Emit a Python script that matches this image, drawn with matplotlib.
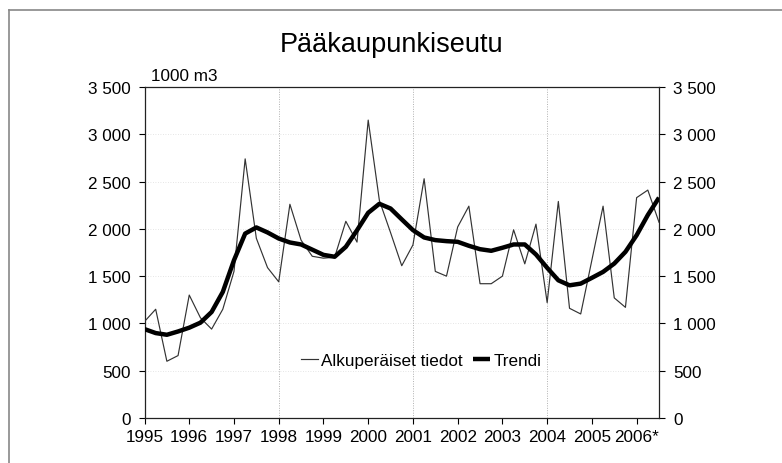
import matplotlib
matplotlib.use("Agg")
import matplotlib.pyplot as plt
from matplotlib.ticker import FuncFormatter
from matplotlib.lines import Line2D
import numpy as np

plt.rcParams['font.family'] = ['Liberation Sans Narrow', 'Liberation Sans', 'DejaVu Sans']

title = "Pääkaupunkiseutu"
unit_label = "1000 m3"
series_names = ["Alkuperäiset tiedot", "Trendi"]
start_year = 1995
year_labels = ["1995", "1996", "1997", "1998", "1999", "2000", "2001",
               "2002", "2003", "2004", "2005", "2006*"]

# quarterly values, 1995 Q1 .. 2006 Q3
original = [1020, 1150, 600, 660, 1300, 1060, 940, 1150,
            1550, 2740, 1900, 1590, 1440, 2260, 1880, 1710,
            1690, 1700, 2080, 1860, 3150, 2300, 1960, 1610,
            1830, 2530, 1550, 1500, 2020, 2240, 1420, 1420,
            1500, 1990, 1630, 2050, 1220, 2290, 1160, 1100,
            1670, 2240, 1270, 1170, 2330, 2410, 2070]
trend = [940, 898, 880, 915, 955, 1008, 1121, 1333,
         1668, 1950, 2015, 1962, 1898, 1856, 1835, 1780,
         1725, 1705, 1810, 1985, 2170, 2265, 2215, 2100,
         1987, 1909, 1881, 1870, 1863, 1821, 1785, 1768,
         1800, 1835, 1835, 1729, 1588, 1456, 1403, 1421,
         1482, 1545, 1633, 1757, 1933, 2146, 2330]

t = start_year + np.arange(len(original)) / 4.0
years = start_year + np.arange(len(year_labels))

fig = plt.figure(figsize=(7.82, 4.64), dpi=100)
ax = fig.add_axes([144.5 / 782, 1 - 419 / 464, (659 - 144.5) / 782, (419 - 88) / 464])

ax.plot(t, original, color='#333333', lw=0.85, label=series_names[0], zorder=3)
ax.plot(t, trend, color='black', lw=3.2, label=series_names[1], zorder=4,
        solid_capstyle='butt')

ax.set_xlim(start_year, t[-1])
ax.set_ylim(0, 3500)
ax.set_yticks(np.arange(0, 3501, 500))
fmt = FuncFormatter(lambda v, p: f"{int(v):,}".replace(",", " "))
ax.yaxis.set_major_formatter(fmt)
ax.set_xticks(years)
ax.set_xticklabels(year_labels)

ax.tick_params(axis='both', labelsize=12.3, colors='black', direction='out', length=4, width=0.8)
ax.tick_params(axis='y', right=True, labelright=True, pad=6)
ax.tick_params(axis='x', pad=4)

for yv in np.arange(500, 3500, 500):
    ax.axhline(yv, color='#dddddd', lw=0.6, ls=(0, (1, 2)), zorder=1)
for xv in [1998, 2001, 2004]:
    ax.axvline(xv, color='#b0b0b0', lw=0.7, ls=(0, (1, 1.5)), zorder=1)

for s in ax.spines.values():
    s.set_color('#222222')
    s.set_linewidth(0.9)

ax.text(0.012, 1.012, unit_label, transform=ax.transAxes, fontsize=12.3,
        ha='left', va='bottom')
fig.text(392 / 782, 1 - 45 / 464, title, fontsize=19.5, ha='center', va='center')

leg = ax.legend(loc='center', bbox_to_anchor=(0.538, 0.175), ncol=2, frameon=False,
                fontsize=12.3, handlelength=1.0, handletextpad=0.2, columnspacing=0.6)

# outer frame (top & left visible)
fig.add_artist(Line2D([9 / 782, 1.0], [1 - 11 / 464, 1 - 11 / 464], color='#888888', lw=1.2))
fig.add_artist(Line2D([9 / 782, 9 / 782], [0, 1 - 11 / 464], color='#888888', lw=1.2))

fig.savefig("out.png", dpi=100)
